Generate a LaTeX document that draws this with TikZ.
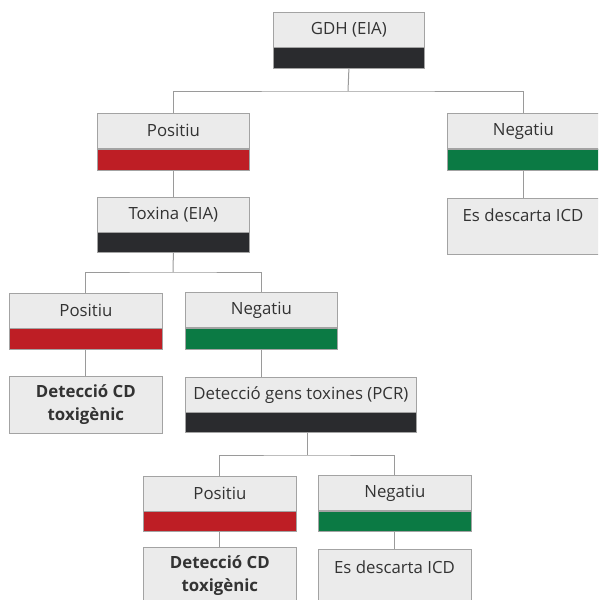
\documentclass[tikz,border=0pt]{standalone}
\usepackage{fontspec}
\setmainfont{Open Sans}
\definecolor{boxfill}{HTML}{EBEBEB}
\definecolor{boxline}{HTML}{A3A3A3}
\definecolor{barred}{HTML}{BE1E25}
\definecolor{bargreen}{HTML}{0B7A44}
\definecolor{bardark}{HTML}{2A2B2E}
\definecolor{txt}{HTML}{333333}
\definecolor{conncol}{HTML}{9A9A9A}
\begin{document}
\begin{tikzpicture}[x=1pt,y=-1pt,
  lbl/.style={draw=boxline, fill=boxfill, line width=0.8pt, anchor=north west, inner sep=0pt,
    minimum height=35pt, text=txt, font=\fontsize{16.8}{20}\selectfont, align=center},
  res/.style={draw=boxline, fill=boxfill, line width=0.8pt, anchor=north west, inner sep=0pt,
    minimum height=57pt, text=txt, font=\fontsize{16.8}{23}\selectfont, align=center},
  bar/.style={draw=boxline, line width=0.8pt, anchor=north west, inner sep=0pt, minimum height=21pt},
  conn/.style={draw=conncol, line width=1pt}]
\useasboundingbox (0,0) rectangle (598,600);
\clip (0,0) rectangle (598,600);
\fill[white] (0,0) rectangle (598,600);

% level 0
\node[lbl, minimum width=151pt] (gdh) at (273,12) {GDH (EIA)};
\node[bar, fill=bardark, minimum width=151pt] (gdhbar) at (273,47) {};

% level 1
\node[lbl, minimum width=152pt] (pos1) at (97,113) {Positiu};
\node[bar, fill=barred, minimum width=152pt] (pos1bar) at (97,149) {};
\node[lbl, minimum width=152pt] (neg1) at (447,113) {Negatiu};
\node[bar, fill=bargreen, minimum width=152pt] (neg1bar) at (447,149) {};
\node[lbl, minimum width=152pt, minimum height=56pt] (desc1) at (447,198) {};
\node[text=txt, font=\fontsize{16.8}{20}\selectfont] (desc1t) at (523,215) {Es descarta ICD};

\node[lbl, minimum width=152pt] (tox) at (97,197) {Toxina (EIA)};
\node[bar, fill=bardark, minimum width=152pt, minimum height=20pt] (toxbar) at (97,232) {};

% level 2
\node[lbl, minimum width=153pt] (pos2) at (9,293) {Positiu};
\node[bar, fill=barred, minimum width=153pt] (pos2bar) at (9,328) {};
\node[res, minimum width=153pt, font=\bfseries\fontsize{16.8}{23}\selectfont] (det2) at (9,376) {Detecció CD\\toxigènic};

\node[lbl, minimum width=152pt] (neg2) at (185,292) {Negatiu};
\node[bar, fill=bargreen, minimum width=152pt] (neg2bar) at (185,328) {};
\node[lbl, minimum width=231pt] (pcr) at (185,377) {Detecció gens toxines (PCR)};
\node[bar, fill=bardark, minimum width=231pt, minimum height=20pt] (pcrbar) at (185,412) {};

% level 3
\node[lbl, minimum width=153pt] (pos3) at (143,476) {Positiu};
\node[bar, fill=barred, minimum width=153pt, minimum height=20pt] (pos3bar) at (143,511) {};
\node[res, minimum width=153pt, font=\bfseries\fontsize{16.8}{23}\selectfont] (det3) at (143,547) {Detecció CD\\toxigènic};

\node[lbl, minimum width=153pt] (neg3) at (318,475) {Negatiu};
\node[bar, fill=bargreen, minimum width=153pt, minimum height=20pt] (neg3bar) at (318,511) {};
\node[lbl, minimum width=153pt, minimum height=57pt] (desc3) at (318,549) {};
\node[text=txt, font=\fontsize{16.8}{20}\selectfont] (desc3t) at (394.5,567) {Es descarta ICD};

% connectors
\coordinate (j1) at (348,91);
\coordinate (j2) at (173,272);
\coordinate (j3) at (307,455);
\draw[conn] (gdhbar.south) -- (j1);
\draw[conn] (pos1.north) |- (j1) -| (neg1.north);
\draw[conn] (pos1bar.south) -- (tox.north);
\draw[conn] (neg1bar.south) -- (desc1.north);
\draw[conn] (toxbar.south) -- (j2);
\draw[conn] (pos2.north) |- (j2) -| (neg2.north);
\draw[conn] (pos2bar.south) -- (det2.north);
\draw[conn] (neg2bar.south) -- (neg2bar.south |- pcr.north);
\draw[conn] (pcrbar.south -| j3) -- (j3);
\draw[conn] (pos3.north) |- (j3) -| (neg3.north);
\draw[conn] (pos3bar.south) -- (det3.north);
\draw[conn] (neg3bar.south) -- (desc3.north);
\end{tikzpicture}
\end{document}
